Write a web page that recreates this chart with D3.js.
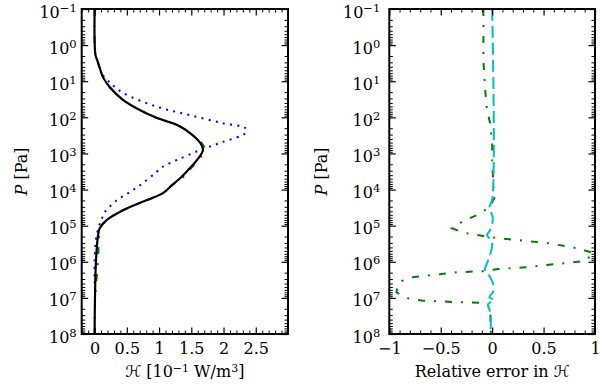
<!DOCTYPE html>
<html>
<head>
<meta charset="utf-8">
<script src="https://cdn.jsdelivr.net/npm/d3@7"></script>
<style>
  body { margin: 0; background: #fff; }
  text { font-family: "DejaVu Serif", "DejaVu Sans", serif; fill: #000; }
</style>
</head>
<body>
<svg id="chart" width="600" height="386"></svg>
<script>
// left panel: heating rate profiles (10^-1 W/m^3) vs pressure (Pa)
const pSolid = [0.1, 0.72, 1.9, 2.6, 4.3, 7.7, 15, 33, 63, 105, 163, 272, 513, 805, 1510, 2880, 4790, 7500, 12600, 23400, 41700, 69200, 117000, 209000, 1.1e6, 9.5e6, 1e8];
const hSolid = [0, 0, 0.014, 0.04, 0.08, 0.13, 0.24, 0.44, 0.70, 0.97, 1.28, 1.48, 1.64, 1.68, 1.59, 1.45, 1.33, 1.20, 1.06, 0.70, 0.39, 0.19, 0.08, 0.05, 0.02, 0.006, 0];
const hDashDot = [0, 0, 0.014, 0.04, 0.08, 0.13, 0.24, 0.44, 0.70, 0.97, 1.28, 1.48, 1.66, 1.71, 1.61, 1.47, 1.36, 1.21, 1.06, 0.70, 0.39, 0.19, 0.09, 0.07, 0.05, 0.01, 0];
const pDotted = [6.8, 11, 21, 51, 87, 145, 200, 272, 480, 805, 1510, 2390, 3270, 6600, 11700, 19500, 41700, 66000, 132000, 282000, 890000, 3.9e6];
const hDotted = [0.13, 0.24, 0.44, 0.97, 1.48, 1.99, 2.34, 2.34, 1.99, 1.64, 1.28, 1.05, 0.96, 0.75, 0.55, 0.35, 0.16, 0.11, 0.05, 0.017, 0, 0];

// right panel: relative errors
const pErrDashDot = [0.1, 2.6, 17, 63, 145, 510, 1510, 8500, 15100, 30200, 51300, 74100, 117500, 158000, 182000, 209000, 234000, 302000, 417000, 575000, 955000, 1.15e6, 1.41e6, 1.58e6, 1.82e6, 1.95e6, 2.19e6, 2.63e6, 3.39e6, 4.68e6, 6.92e6, 8.32e6, 1.07e7, 1.2e7, 1.29e7, 1.38e7, 1.58e7, 1.78e7, 1e8];
const errDashDot = [-0.085, -0.085, -0.068, -0.05, -0.02, 0, 0, 0.013, 0.03, -0.02, -0.15, -0.28, -0.39, -0.28, -0.14, -0.02, 0.14, 0.53, 0.82, 0.99, 0.90, 0.63, 0.34, 0.06, -0.085, -0.34, -0.49, -0.76, -0.88, -0.92, -0.93, -0.89, -0.80, -0.67, -0.39, -0.10, -0.05, -0.02, -0.01];
const pErrDashed = [0.1, 19500, 30200, 61700, 132000, 182000, 219000, 302000, 646000, 1.1e6, 1.7e6, 2.63e6, 4.47e6, 6.92e6, 9.55e6, 1.15e7, 1.48e7, 2.45e7, 1e8];
const errDashed = [0, 0, -0.026, 0.007, -0.02, -0.05, -0.03, 0, -0.02, -0.05, -0.07, -0.02, 0.013, 0.007, -0.026, 0.02, -0.04, -0.02, -0.013];

// ticks
const hTicks = [0, 0.5, 1, 1.5, 2, 2.5];
const errTicks = [-1, -0.5, 0, 0.5, 1];
const pExponents = [-1, 0, 1, 2, 3, 4, 5, 6, 7, 8];

const svg = d3.select('#chart');
const yTop = 9, yBottom = 334;

const y = d3.scaleLog().domain([0.1, 1e8]).range([yTop, yBottom]);
const pMajor = pExponents.map(e => Math.pow(10, e));
const pMinor = [];
pExponents.slice(0, -1).forEach(e => {
  for (let k = 2; k <= 9; k++) pMinor.push(k * Math.pow(10, e));
});

const fmtNum = d => (d < 0 ? '\u2212' : '') + Math.abs(d);

function drawPanel(id, x, xTicks, xMinor, yPad, yTitleX) {
  const [x0, x1] = x.range();
  const g = svg.append('g');

  g.append('clipPath').attr('id', id)
    .append('rect').attr('x', x0).attr('y', yTop).attr('width', x1 - x0).attr('height', yBottom - yTop);

  const plot = g.append('g').attr('clip-path', `url(#${id})`);

  // minor ticks, all four sides
  const minorAxes = [
    [d3.axisBottom(x).tickValues(xMinor), `translate(0,${yBottom})`],
    [d3.axisTop(x).tickValues(xMinor), `translate(0,${yTop})`],
    [d3.axisLeft(y).tickValues(pMinor), `translate(${x0},0)`],
    [d3.axisRight(y).tickValues(pMinor), `translate(${x1},0)`]
  ];
  minorAxes.forEach(([ax, tr]) => {
    const a = g.append('g').attr('transform', tr)
      .call(ax.tickSize(-3.5).tickFormat(''));
    a.select('.domain').remove();
    a.selectAll('line').attr('stroke-width', 1);
  });

  // major ticks
  const bx = g.append('g').attr('transform', `translate(0,${yBottom})`)
    .call(d3.axisBottom(x).tickValues(xTicks).tickSize(-6.5).tickFormat(fmtNum));
  const tx = g.append('g').attr('transform', `translate(0,${yTop})`)
    .call(d3.axisTop(x).tickValues(xTicks).tickSize(-6.5).tickFormat(''));
  const ly = g.append('g').attr('transform', `translate(${x0},0)`)
    .call(d3.axisLeft(y).tickValues(pMajor).tickSize(-6.5).tickPadding(yPad));
  const ry = g.append('g').attr('transform', `translate(${x1},0)`)
    .call(d3.axisRight(y).tickValues(pMajor).tickSize(-6.5).tickFormat(''));
  [bx, tx, ly, ry].forEach(a => {
    a.select('.domain').remove();
    a.selectAll('line').attr('stroke-width', 1.2);
  });

  bx.selectAll('text').attr('y', 20).attr('dy', null)
    .attr('font-size', 16).attr('font-family', null);

  ly.selectAll('text').attr('dy', 8).attr('font-size', 16).attr('font-family', null)
    .each(function(d) {
      const t = d3.select(this);
      const e = Math.round(Math.log10(d));
      t.text('');
      t.append('tspan').text('10');
      t.append('tspan').attr('dy', -6).attr('font-size', 11.5).text(fmtNum(e));
    });

  // axis label
  svg.append('text')
    .attr('transform', `translate(${yTitleX},${(yTop + yBottom) / 2}) rotate(-90)`)
    .attr('text-anchor', 'middle').attr('font-size', 16)
    .call(t => {
      t.append('tspan').attr('font-style', 'italic').text('P');
      t.append('tspan').text(' [Pa]');
    });

  // frame
  g.append('rect').attr('x', x0).attr('y', yTop)
    .attr('width', x1 - x0).attr('height', yBottom - yTop)
    .attr('fill', 'none').attr('stroke', '#000').attr('stroke-width', 2);

  return plot;
}

const xL = d3.scaleLinear().domain([-0.2, 3]).range([81.7, 288]);
const xR = d3.scaleLinear().domain([-1, 1]).range([389.3, 595]);

const minorL = d3.range(-2, 31).map(i => i / 10).filter(v => !hTicks.includes(v));
const minorR = d3.range(-10, 11).map(i => i / 10).filter(v => !errTicks.includes(v));

const plotL = drawPanel('clipL', xL, hTicks, minorL, 5, 27);
const plotR = drawPanel('clipR', xR, errTicks, minorR, 9, 327);

function profile(plot, x, ps, vs, curve) {
  const pts = ps.map((p, i) => [vs[i], p]);
  return plot.append('path')
    .datum(pts)
    .attr('fill', 'none')
    .attr('d', d3.line().x(d => x(d[0])).y(d => y(d[1])).curve(curve));
}

const smooth = d3.curveCatmullRom.alpha(0.5);

profile(plotL, xL, pSolid, hDashDot, smooth)
  .attr('stroke', '#008000').attr('stroke-width', 2).attr('stroke-dasharray', '7,9,2,9');
profile(plotL, xL, pDotted, hDotted, smooth)
  .attr('stroke', '#0000ff').attr('stroke-width', 2).attr('stroke-dasharray', '2,5.3');
profile(plotL, xL, pSolid, hSolid, smooth)
  .attr('stroke', '#000').attr('stroke-width', 2.2);

profile(plotR, xR, pErrDashDot, errDashDot, d3.curveLinear)
  .attr('stroke', '#008000').attr('stroke-width', 2).attr('stroke-dasharray', '7,9,2,9');
profile(plotR, xR, pErrDashed, errDashed, smooth)
  .attr('stroke', '#00bfbf').attr('stroke-width', 2).attr('stroke-dasharray', '12,5');

// x axis titles
svg.append('text')
  .attr('x', (81.7 + 288) / 2).attr('y', 377)
  .attr('text-anchor', 'middle').attr('font-size', 16)
  .call(t => {
    t.append('tspan').attr('font-style', 'italic').text('\u210B');
    t.append('tspan').text(' [10');
    t.append('tspan').attr('dy', -5).attr('font-size', 11).text('\u22121');
    t.append('tspan').attr('dy', 5).text(' W/m');
    t.append('tspan').attr('dy', -5).attr('font-size', 11).text('3');
    t.append('tspan').attr('dy', 5).text(']');
  });

svg.append('text')
  .attr('x', (389.3 + 595) / 2).attr('y', 377)
  .attr('text-anchor', 'middle').attr('font-size', 16)
  .call(t => {
    t.append('tspan').text('Relative error in ');
    t.append('tspan').attr('font-style', 'italic').text('\u210B');
  });
</script>
</body>
</html>
